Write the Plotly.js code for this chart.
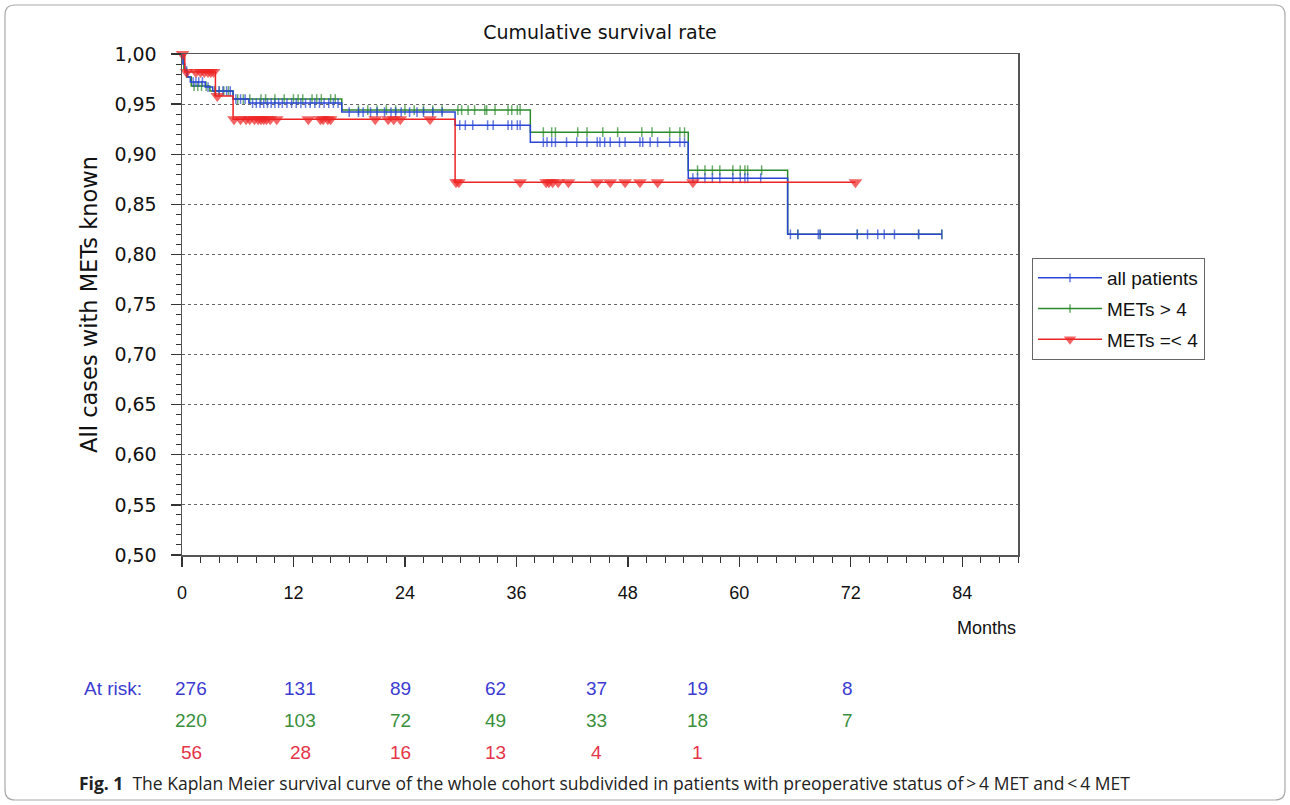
<!DOCTYPE html>
<html>
<head>
<meta charset="utf-8">
<script src="https://cdn.plot.ly/plotly-3.0.1.min.js"></script>
<style>html,body{margin:0;padding:0;background:#fff;}#chart{width:1290px;height:805px;}</style>
</head>
<body>
<div id="chart"></div>
<script>
// ---------- DATA ----------
var seriesNames = ["all patients", "METs > 4", "METs =< 4"];

// Kaplan-Meier step points (time in months, survival)
var allTimes = [0, 0.1, 0.3, 0.6, 0.9, 2.5, 3.3, 5.5, 7.2, 17.2, 29.4, 37.5, 54.5, 65.2];
var allSurv  = [1.0, 0.99, 0.983, 0.977, 0.972, 0.967, 0.963, 0.955, 0.951, 0.942, 0.929, 0.912, 0.876, 0.820];
var allCensored = [0.5, 1.2, 1.5, 1.8, 2.2, 2.8, 3.6, 4.0, 4.4, 4.8, 5.2, 5.8, 6.3, 6.8, 7.6, 8.0, 8.4, 8.8, 9.2, 9.6,
  10.0, 10.4, 10.8, 11.3, 11.8, 12.3, 12.8, 13.3, 13.8, 14.3, 14.8, 15.3, 15.8, 16.3, 16.8, 18.0, 19.0, 19.5, 20.3,
  21.0, 21.8, 22.5, 23.0, 23.6, 24.5, 25.3, 26.0, 27.0, 28.0, 29.9, 30.5, 31.3, 32.9, 33.5, 35.1, 35.5, 36.1, 36.4,
  38.9, 39.3, 39.8, 40.2, 41.4, 42.5, 43.6, 44.7, 45.0, 45.5, 46.1, 47.1, 47.7, 49.3, 49.6, 50.4, 51.2, 52.5, 53.6,
  54.1, 55.0, 55.5, 56.3, 57.1, 57.9, 59.3, 60.1, 60.6, 60.9, 62.3, 65.5, 66.3, 68.5, 68.7, 72.7, 73.8, 74.9, 75.6,
  76.7, 79.3, 81.8];

var highTimes = [0, 0.2, 0.5, 1.0, 3.0, 5.5, 17.2, 37.5, 54.5, 65.2];
var highSurv  = [1.0, 0.985, 0.977, 0.968, 0.963, 0.955, 0.944, 0.922, 0.884, 0.820];
var highCensored = [1.3, 1.7, 2.1, 2.6, 3.5, 4.0, 4.5, 5.0, 6.0, 6.6, 7.3, 8.5, 9.0, 10.0, 11.0, 12.0, 12.5, 13.0,
  14.0, 14.5, 15.0, 16.0, 16.5, 19.0, 20.0, 21.0, 22.0, 23.0, 24.0, 25.0, 26.0, 27.0, 28.0, 29.7, 30.1, 30.8, 31.5,
  32.6, 32.8, 33.7, 35.1, 35.5, 36.1, 36.4, 38.9, 39.8, 40.2, 42.6, 43.6, 45.3, 46.9, 49.5, 50.6, 52.5, 53.6, 54.1,
  55.5, 56.3, 57.1, 57.9, 59.3, 60.1, 60.6, 60.9, 62.4, 66.3, 68.7, 72.7, 79.3, 81.8];

var lowTimes = [0, 0.3, 3.6, 5.5, 29.4];
var lowSurv  = [1.0, 0.982, 0.958, 0.935, 0.872];
var lowCensored = [0.05, 0.5, 1.5, 2.0, 2.4, 2.8, 3.1, 3.4, 3.8, 5.6, 6.3, 6.9, 7.3, 7.8, 8.2, 8.5, 8.8, 9.1, 9.5,
  10.2, 13.6, 14.9, 15.2, 15.7, 16.0, 20.8, 22.2, 22.8, 23.5, 26.7, 29.5, 29.8, 36.4, 39.2, 39.5, 39.9, 40.5, 41.6,
  44.7, 46.1, 47.7, 49.3, 51.2, 55.0, 72.5];

// Numbers at risk
var riskLabel = "At risk:";
var riskAll  = [276, 131, 89, 62, 37, 19, 8];
var riskHigh = [220, 103, 72, 49, 33, 18, 7];
var riskLow  = [56, 28, 16, 13, 4, 1];

var chartTitle = "Cumulative survival rate";
var yTitle = "All cases with METs known";
var xTitle = "Months";
var captionBold = "Fig. 1";
var captionText = "The Kaplan Meier survival curve of the whole cohort subdivided in patients with preoperative status of\u2009>\u20094 MET and\u2009<\u20094 MET";

// ---------- STYLE ----------
var cBlue = "#2a44d4", cGreen = "#2b8a2b", cRed = "#ee2424";
var rBlue = "#3b3bd2", rGreen = "#3a8f3a", rRed = "#e53348";

// plot-area pixel geometry
var L = 182, R = 1018, T = 54, B = 555, W = 1290, H = 805;
function px(x) { return (x - L) / (R - L); }
function py(y) { return (B - y) / (B - T); }

function stepValue(times, surv, t) {
  var v = surv[0];
  for (var i = 0; i < times.length; i++) { if (times[i] <= t) v = surv[i]; }
  return v;
}
function buildTrace(name, times, surv, cens, color, sym, msize, mline, rank) {
  var pts = [];
  times.forEach(function (t, i) { pts.push({x: t, y: surv[i], s: 0, o: 0}); });
  cens.forEach(function (c) { pts.push({x: c, y: stepValue(times, surv, c), s: msize, o: 1}); });
  pts.sort(function (a, b) { return a.x - b.x || a.o - b.o; });
  return {
    type: "scatter", mode: "lines+markers", name: name,
    x: pts.map(function (p) { return p.x; }),
    y: pts.map(function (p) { return p.y; }),
    line: {shape: "hv", color: color, width: 1.5},
    marker: {symbol: sym, size: pts.map(function (p) { return p.s; }), color: color,
             line: {color: color, width: mline}},
    cliponaxis: false, hoverinfo: "skip", legendrank: rank, legendgroup: name
  };
}

var traces = [
  buildTrace(seriesNames[1], highTimes, highSurv, highCensored, cGreen, "line-ns-open", 7, 1.5, 2),
  buildTrace(seriesNames[0], allTimes, allSurv, allCensored, cBlue, "line-ns-open", 7, 1.5, 1),
  buildTrace(seriesNames[2], lowTimes, lowSurv, lowCensored, cRed, "triangle-down", 12, 0, 3)
];

// ---------- ANNOTATIONS ----------
var ann = [];
var riskFont = "Liberation Sans Narrow, Arial Narrow, Liberation Sans, sans-serif";
var colX = [191, 300, 400, 495, 596, 697, 847];
var rowY = [688, 720, 752];
ann.push({xref: "paper", yref: "paper", x: px(82), y: py(rowY[0]), xanchor: "left", yanchor: "middle",
  text: riskLabel, showarrow: false, font: {family: riskFont, size: 19, color: rBlue}});
[[riskAll, rBlue], [riskHigh, rGreen], [riskLow, rRed]].forEach(function (row, r) {
  row[0].forEach(function (v, i) {
    ann.push({xref: "paper", yref: "paper", x: px(colX[i]), y: py(rowY[r]), xanchor: "center", yanchor: "middle",
      text: String(v), showarrow: false, font: {family: riskFont, size: 19, color: row[1]}});
  });
});
ann.push({xref: "paper", yref: "paper", x: 1, y: py(628), xanchor: "right", yanchor: "middle",
  text: xTitle, showarrow: false, font: {family: "Liberation Sans, sans-serif", size: 18, color: "#111"}});
ann.push({xref: "paper", yref: "paper", x: px(77), y: py(783), xanchor: "left", yanchor: "middle",
  text: "<b>" + captionBold + "</b>  " + captionText, showarrow: false,
  font: {family: "Open Sans, Noto Sans, sans-serif", size: 17.5, color: "#222"}});

// rounded outer frame
function framePath(x0, y0, x1, y1, r) {
  function P(x, y) { return px(x) + "," + py(y); }
  return "M" + P(x0 + r, y0) + " L" + P(x1 - r, y0) + " Q" + P(x1, y0) + " " + P(x1, y0 + r) +
    " L" + P(x1, y1 - r) + " Q" + P(x1, y1) + " " + P(x1 - r, y1) +
    " L" + P(x0 + r, y1) + " Q" + P(x0, y1) + " " + P(x0, y1 - r) +
    " L" + P(x0, y0 + r) + " Q" + P(x0, y0) + " " + P(x0 + r, y0) + " Z";
}

var layout = {
  width: W, height: H,
  margin: {l: L, r: W - R, t: T, b: H - B, pad: 0},
  paper_bgcolor: "#fff", plot_bgcolor: "#fff",
  separators: ",.",
  showlegend: true,
  font: {family: "Liberation Sans, Arial, sans-serif", color: "#111"},
  title: {text: chartTitle, x: px(600), xref: "paper", xanchor: "center", y: 1 - 32 / H, yanchor: "middle",
          font: {family: "DejaVu Sans, sans-serif", size: 19, color: "#111"}},
  xaxis: {range: [0, 90], tick0: 0, dtick: 12, ticks: "outside", ticklen: 10, tickwidth: 1.3, tickcolor: "#333",
          showline: true, linecolor: "#555", linewidth: 1.5, mirror: true, showgrid: false, zeroline: false,
          tickfont: {size: 18, color: "#111"}, ticklabelstandoff: 11, fixedrange: true,
          minor: {dtick: 2, ticks: "outside", ticklen: 6, tickcolor: "#333", tickwidth: 1, showgrid: false}},
  yaxis: {range: [0.5, 1.0], tick0: 0.5, dtick: 0.05, tickformat: ".2f", ticks: "outside", ticklen: 10,
          tickwidth: 1.3, tickcolor: "#333", showline: true, linecolor: "#555", linewidth: 1.5, mirror: true,
          showgrid: true, gridcolor: "#666", griddash: "dot", gridwidth: 1, zeroline: false,
          tickfont: {family: "DejaVu Sans, sans-serif", size: 19, color: "#111"}, ticklabelstandoff: 10, fixedrange: true,
          title: {text: yTitle, font: {family: "DejaVu Sans, sans-serif", size: 22.5, color: "#111"}, standoff: 10},
          minor: {dtick: 0.01, ticks: "outside", ticklen: 5, tickcolor: "#333", tickwidth: 1, showgrid: false}},
  legend: {x: px(1032), y: py(258), xanchor: "left", yanchor: "top", bgcolor: "#fff",
           bordercolor: "#666", borderwidth: 1, font: {size: 19, color: "#111"}, itemwidth: 64,
           tracegroupgap: 3, traceorder: "grouped"},
  annotations: ann,
  shapes: [{type: "path", xref: "paper", yref: "paper", path: framePath(5, 5, 1285, 800, 10),
            line: {color: "#aaa", width: 1.2}, fillcolor: "rgba(0,0,0,0)", layer: "below"}]
};

Plotly.newPlot("chart", traces, layout, {displayModeBar: false, staticPlot: true});
</script>
</body>
</html>
